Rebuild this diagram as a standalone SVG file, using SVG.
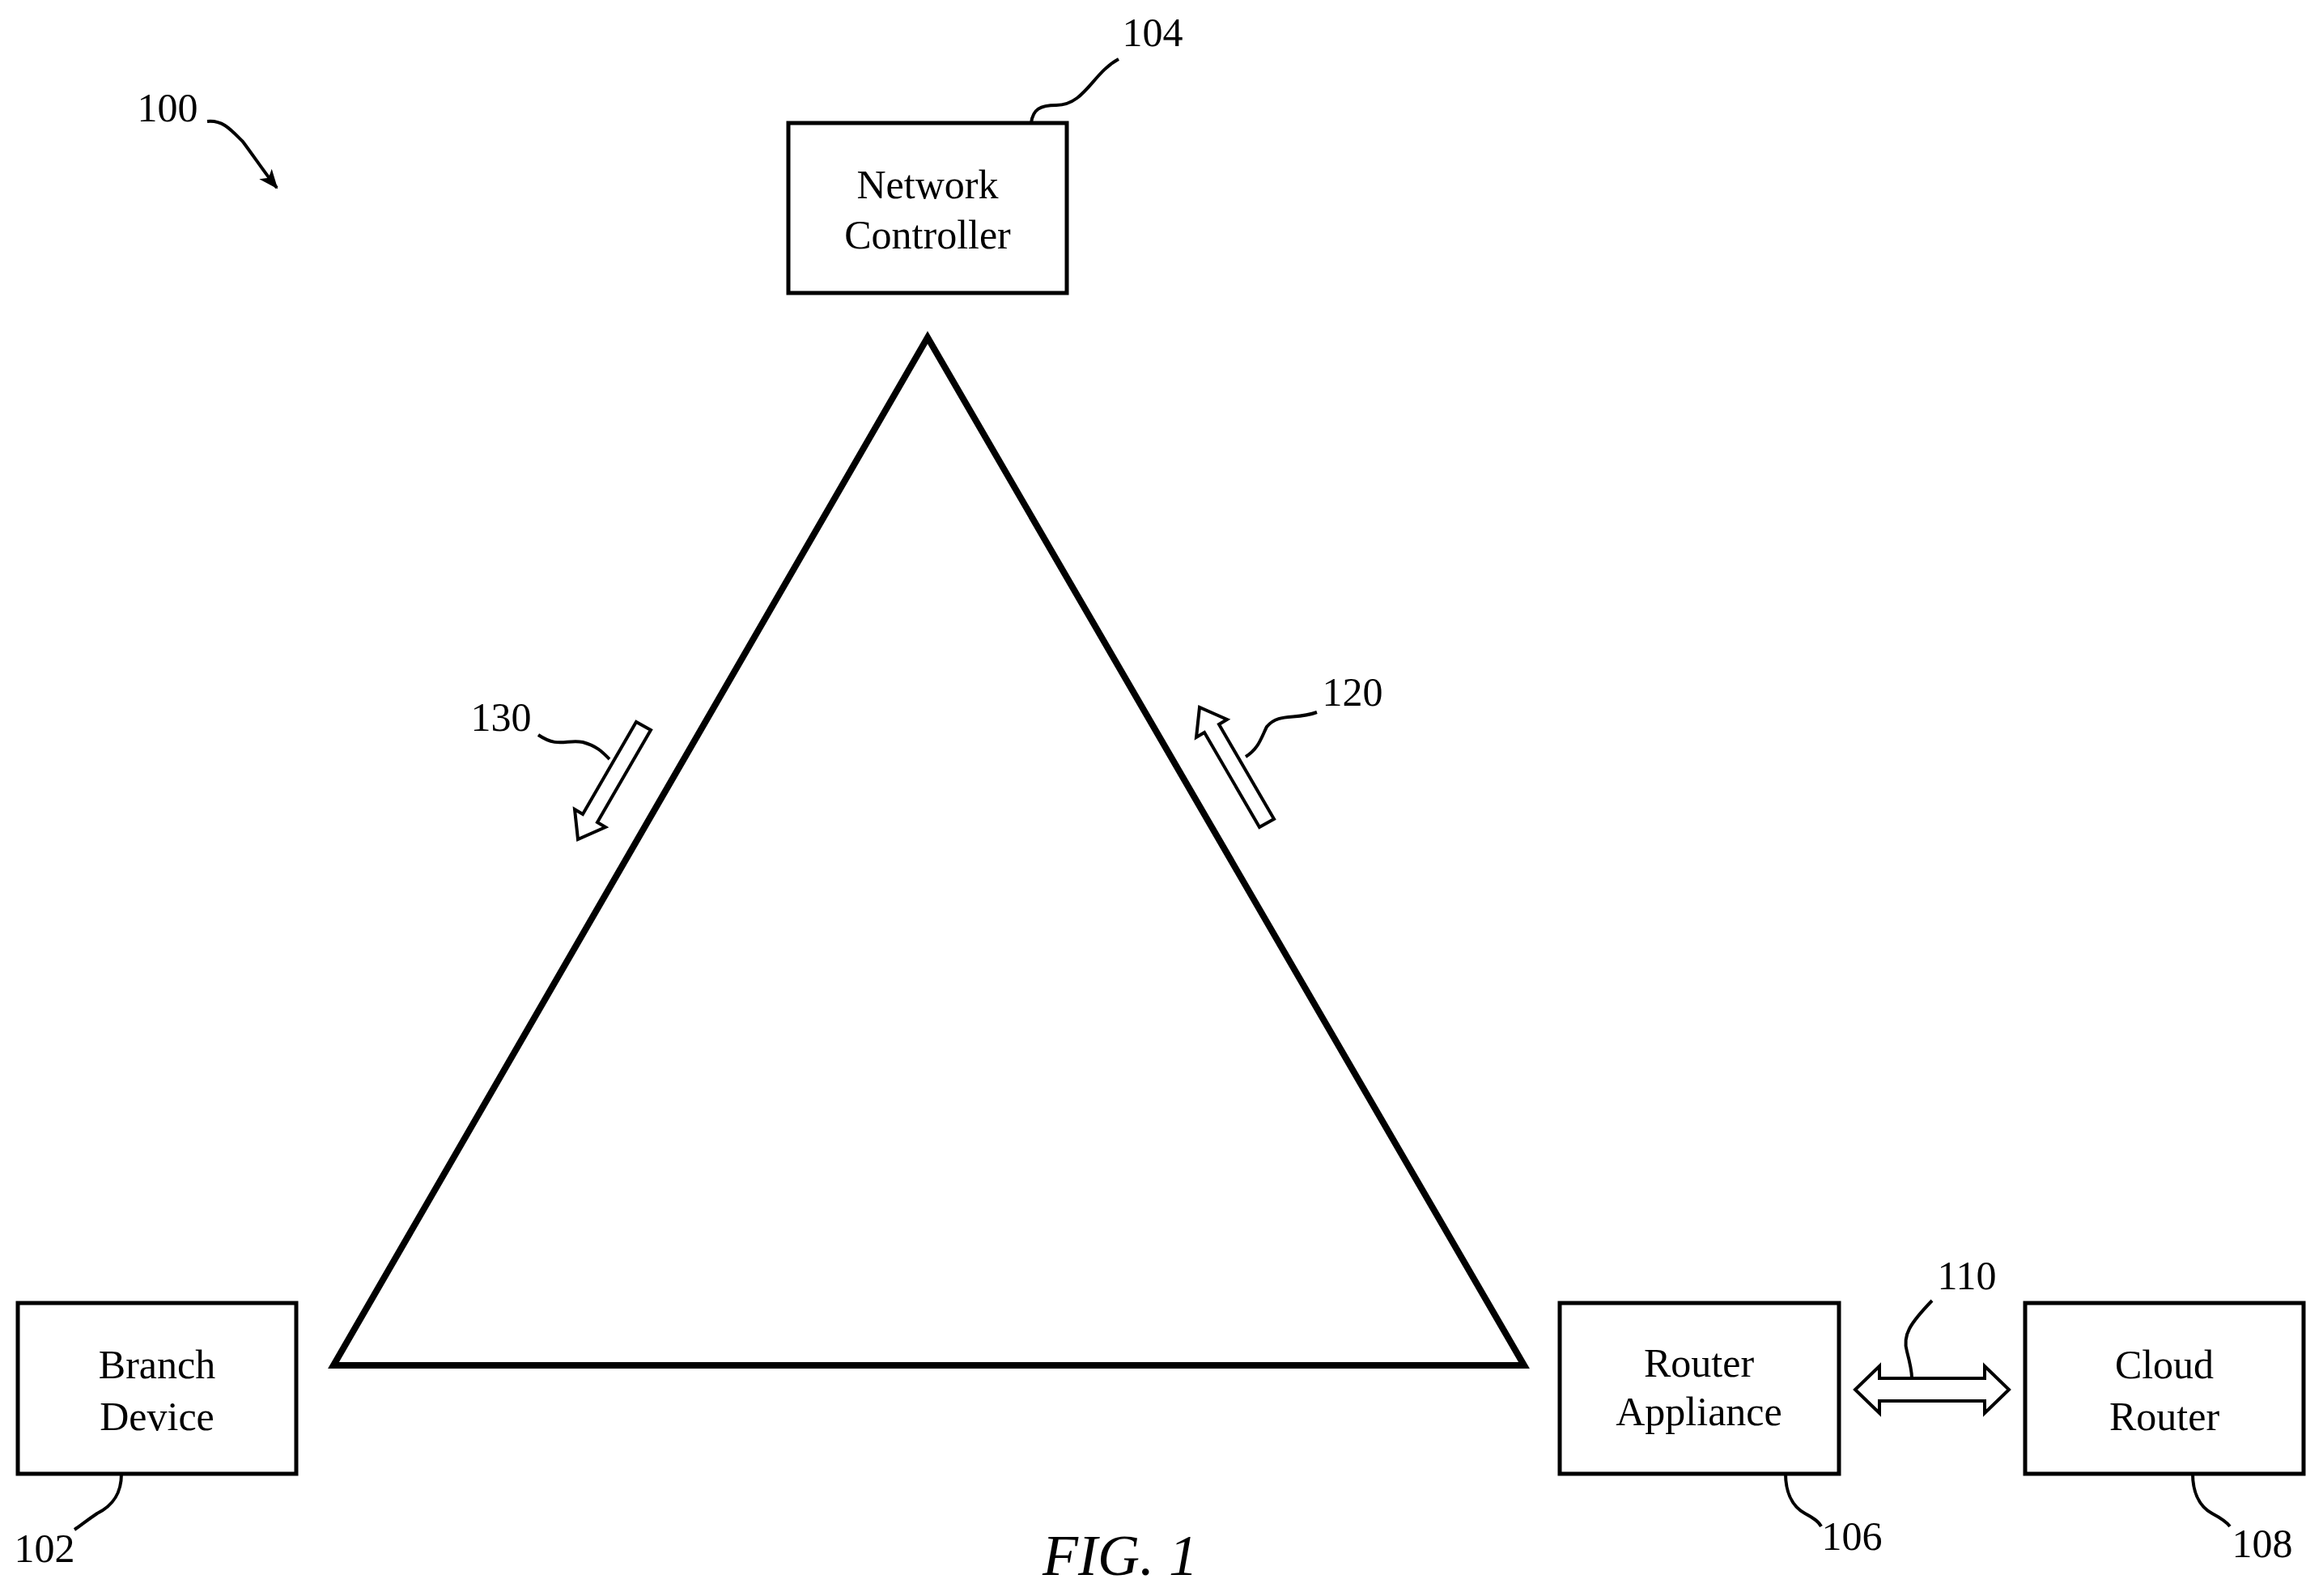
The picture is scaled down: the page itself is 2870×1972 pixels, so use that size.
<svg xmlns="http://www.w3.org/2000/svg" width="2870" height="1972" viewBox="0 0 2870 1972">
<style>
.box{fill:#fff;stroke:#000;stroke-width:5}
.t{font-family:"Liberation Serif",serif;font-size:50px;text-anchor:middle;fill:#000}
.ln{fill:none;stroke:#000;stroke-width:4}
.ha{fill:#fff;stroke:#000;stroke-width:4;stroke-linejoin:miter}
</style>
<defs><marker id="ah" markerWidth="10" markerHeight="10" refX="9" refY="5" orient="auto" markerUnits="userSpaceOnUse" viewBox="0 0 10 10"><path d="M0,0 L10,5 L0,10 Z" fill="#000"/></marker>
<marker id="ah2" markerWidth="24" markerHeight="20" refX="22" refY="10" orient="auto" markerUnits="userSpaceOnUse"><path d="M0,0 L24,10 L0,20 L6,10 Z" fill="#000"/></marker></defs>
<rect width="2870" height="1972" fill="#fff"/>
<g id="n104"><rect class="box" x="974" y="152" width="344" height="210"/><text class="t" x="1146" y="245">Network</text><text class="t" x="1146" y="307">Controller</text></g>
<g id="n102"><rect class="box" x="22" y="1610" width="344" height="211"/><text class="t" x="194" y="1703">Branch</text><text class="t" x="194" y="1767">Device</text></g>
<g id="n106"><rect class="box" x="1927" y="1610" width="345" height="211"/><text class="t" x="2099" y="1701">Router</text><text class="t" x="2099" y="1761">Appliance</text></g>
<g id="n108"><rect class="box" x="2502" y="1610" width="344" height="211"/><text class="t" x="2674" y="1703">Cloud</text><text class="t" x="2674" y="1767">Router</text></g>
<g id="connectors">
<polygon points="1146,417 412,1687 1883,1687" fill="none" stroke="#000" stroke-width="8" stroke-linejoin="miter"/>
<polygon class="ha" points="804,902 738,1016 748,1022 714,1037 710,1000 720,1006 786,892"/>
<polygon class="ha" points="1574,1012 1506,895 1516,889 1482,874 1478,911 1488,905 1556,1022"/>
<polygon class="ha" points="2292,1717 2322,1688 2322,1703 2452,1703 2452,1688 2482,1717 2452,1746 2452,1731 2322,1731 2322,1746"/>
<path class="ln" d="M2387,1607 C2360,1635 2350,1650 2356,1670 C2360,1685 2362,1695 2362,1703"/>
<path class="ln" d="M665,908 C690,925 700,913 720,917 C738,922 745,930 753,938"/>
<path class="ln" d="M1539,935 C1555,925 1558,912 1565,898 C1580,880 1600,890 1627,880"/>
<path class="ln" d="M1274,152 C1276,135 1285,130 1305,130 C1340,130 1350,90 1382,73"/>
<path class="ln" d="M150,1821 C150,1845 140,1860 120,1870 C105,1880 100,1885 92,1890"/>
<path class="ln" d="M2206,1821 C2206,1840 2212,1860 2230,1870 C2245,1878 2248,1882 2250,1886"/>
<path class="ln" d="M2709,1821 C2709,1840 2715,1860 2733,1870 C2748,1878 2752,1882 2755,1886"/>
<path class="ln" d="M256,150 C275,148 285,160 300,175 C315,195 328,215 342,232" marker-end="url(#ah2)"/>
</g>
<g id="labels">
<text class="t" x="1424" y="57">104</text>
<text class="t" x="207" y="150">100</text>
<text class="t" x="619" y="903">130</text>
<text class="t" x="1671" y="872">120</text>
<text class="t" x="2430" y="1593">110</text>
<text class="t" x="55" y="1930">102</text>
<text class="t" x="2288" y="1915">106</text>
<text class="t" x="2795" y="1924">108</text>
<text x="1384" y="1946" style="font-family:'Liberation Serif',serif;font-size:72px;font-style:italic;text-anchor:middle">FIG. 1</text>
</g>
</svg>
